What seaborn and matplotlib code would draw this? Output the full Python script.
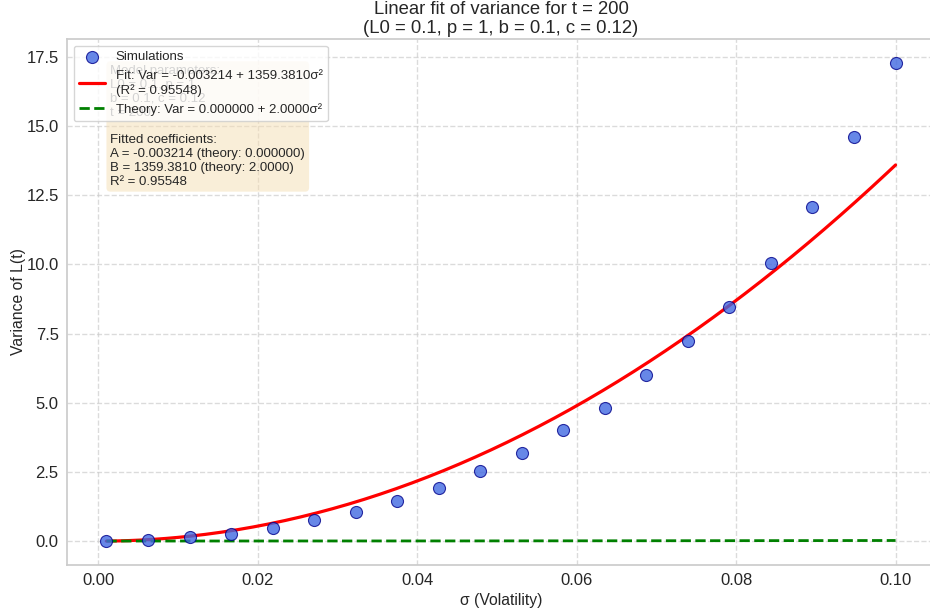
import numpy as np
import matplotlib
matplotlib.use("Agg")
import matplotlib.pyplot as plt
import seaborn as sns

sigma = [0.001, 0.00621, 0.01142, 0.01663, 0.02184, 0.02705, 0.03226, 0.03747,
         0.04268, 0.04789, 0.05311, 0.05832, 0.06353, 0.06874, 0.07395, 0.07916,
         0.08437, 0.08958, 0.09479, 0.1]
variance = [0.0, 0.04, 0.14, 0.27, 0.48, 0.76, 1.06, 1.46, 1.93, 2.54, 3.19, 4.01,
            4.80, 6.00, 7.23, 8.45, 10.05, 12.07, 14.60, 17.28]
fit_A = -0.003214
fit_B = 1359.3810
theory_A = 0.0
theory_B = 2.0
r2 = 0.95548

sns.set_theme(style="whitegrid")
plt.rcParams['font.family'] = ['Liberation Sans', 'DejaVu Sans']

fig = plt.figure(figsize=(9.3, 6.13), dpi=100)
ax = fig.add_axes([67 / 930, 1 - 565 / 613, (935 - 67) / 930, (565 - 39) / 613])
sns.scatterplot(x=sigma, y=variance, s=75, color="royalblue", edgecolor="darkblue",
                alpha=0.8, linewidth=0.8, label="Simulations", ax=ax, zorder=3)

xs = np.linspace(min(sigma), max(sigma), 200)
sns.lineplot(x=xs, y=fit_A + fit_B * xs**2, color="red", linewidth=2.3,
             label=f"Fit: Var = {fit_A:.6f} + {fit_B:.4f}σ²\n(R² = {r2:.5f})", ax=ax)
sns.lineplot(x=xs, y=theory_A + theory_B * xs**2, color="green", linewidth=2.0,
             linestyle="--", label=f"Theory: Var = {theory_A:.6f} + {theory_B:.4f}σ²", ax=ax)

ax.set_xlabel("σ (Volatility)", fontsize=11.3, labelpad=3)
ax.set_ylabel("Variance of L(t)", fontsize=11.3, labelpad=0)
ax.set_title("Linear fit of variance for t = 200\n(L0 = 0.1, p = 1, b = 0.1, c = 0.12)",
             fontsize=13.3, pad=4)
ax.tick_params(labelsize=12, length=0, pad=6)
ax.grid(True, linestyle="--", alpha=0.7)

txt = ("Model parameters:\nL0 = 0.1, p = 1\nb = 0.1, c = 0.12\nt = 200\n\n"
       f"Fitted coefficients:\nA = {fit_A:.6f} (theory: {theory_A:.6f})\n"
       f"B = {fit_B:.4f} (theory: {theory_B:.4f})\nR² = {r2:.5f}")
ax.text(0.05, 0.95, txt, transform=ax.transAxes, fontsize=9.5, va="top",
        bbox=dict(boxstyle="round", facecolor="wheat", alpha=0.5, edgecolor="none"))
ax.legend(loc="upper left", fontsize=9.5, frameon=True)

fig.savefig("out.png", dpi=100)
